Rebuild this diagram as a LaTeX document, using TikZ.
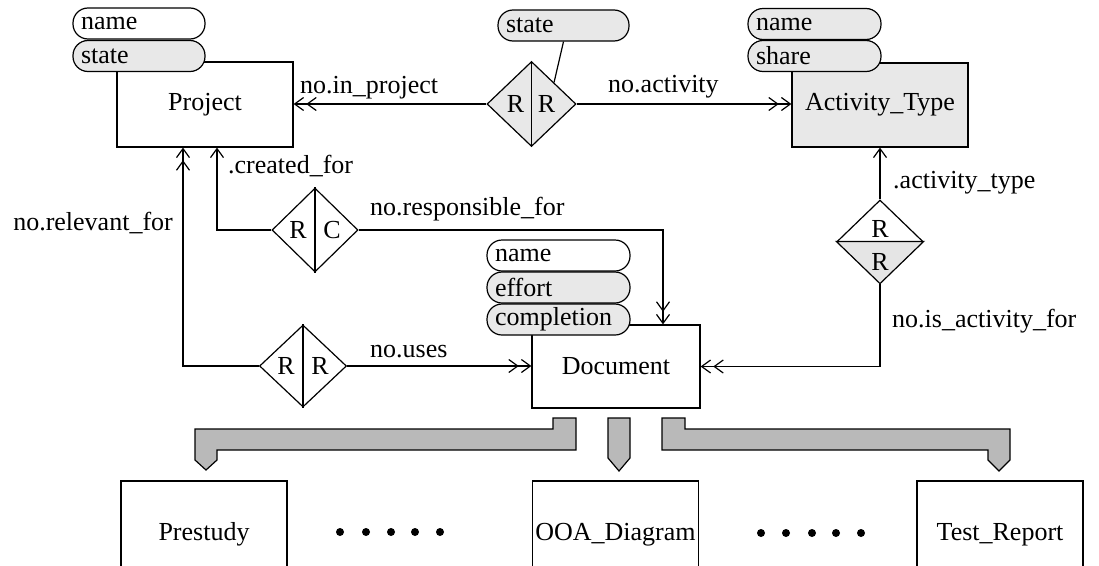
\documentclass[tikz,border=0pt]{standalone}
\usepackage{fontspec}
\setmainfont{Liberation Serif}
\usetikzlibrary{shapes.geometric,arrows.meta}
\tikzset{
  every node/.style={font=\fontsize{26}{31}\selectfont},
  lw/.style={line width=1.2pt},
  ent/.style={draw, lw, rectangle, inner sep=0pt},
  pill/.style={draw, lw, rounded corners=15pt, minimum height=31pt, inner xsep=8pt, inner ysep=0pt, align=left, text width=#1, fill=white},
  shd/.style={fill=gray!18},
  rel/.style={draw, lw, diamond, inner sep=0pt},
  lbl/.style={inner sep=0pt, anchor=base west},
  dbl/.style={lw, -{Straight Barb[length=9pt,width=13pt,sep=2pt]Straight Barb[length=9pt,width=13pt]}},
  sgl/.style={lw, -{Straight Barb[length=9pt,width=13pt]}},
  bus/.style={draw, lw, fill=gray!55},
  sub/.style={ent, minimum width=166pt, minimum height=94pt, text height=24pt, text depth=0pt},
}
\begin{document}
\begin{tikzpicture}[x=1pt,y=-1pt]
\useasboundingbox (0,0) rectangle (1099,565);
\clip (0,0) rectangle (1099,565);

% entities
\node[ent, minimum width=176pt, minimum height=85pt] (project) at (205,104.5) {Project};
\node[ent, shd, minimum width=176pt, minimum height=84pt] (acttype) at (880,105) {Activity\_Type};
\node[ent, minimum width=168pt, minimum height=83pt] (document) at (616,366.5) {Document};

% attribute pills
\node[pill=116pt] (pname) at (139,23.5) {name};
\node[pill=116pt, shd] (pstate) at (139,56) {state};
\node[pill=117pt, shd] (aname) at (814.5,24) {name};
\node[pill=117pt, shd] (ashare) at (814.5,56) {share};
\node[pill=127pt] (dname) at (558.5,255.5) {name};
\node[pill=127pt, shd] (deffort) at (558.5,287.5) {effort};
\node[pill=127pt, shd] (dcompl) at (558.5,319.5) {completion};

% relationships
\node[rel, shd, minimum width=89pt, minimum height=85pt] (d1) at (531.5,104) {};
\draw[lw] (d1.north) -- (d1.south);
\node (d1l) at ([xshift=-16pt]d1.center) {R};
\node (d1r) at ([xshift=15pt]d1.center) {R};
\node[pill=115pt, shd] (tstate) at (563.5,25.5) {state};
\draw[lw] (tstate.south) -- (d1.north east);

\node[rel, minimum width=86pt, minimum height=84pt] (d2) at (315,230) {};
\draw[lw] (d2.north) -- (d2.south);
\node (d2l) at ([xshift=-17pt]d2.center) {R};
\node (d2r) at ([xshift=17pt]d2.center) {C};

\node[rel, minimum width=87pt, minimum height=82pt] (d3) at (303,366) {};
\draw[lw] (d3.north) -- (d3.south);
\node (d3l) at ([xshift=-17pt]d3.center) {R};
\node (d3r) at ([xshift=17pt]d3.center) {R};

\node[rel, minimum width=86pt, minimum height=83pt] (d4) at (880,241.5) {};
\fill[gray!20] (d4.west) -- (d4.east) -- (d4.south) -- cycle;
\draw[lw] (d4.west) -- (d4.south) -- (d4.east) -- cycle;
\node (d4t) at ([yshift=13pt]d4.center) {R};
\node (d4b) at ([yshift=-20pt]d4.center) {R};

% connectors
\draw[dbl] (d1.west) -- (d1.west -| project.east);
\draw[dbl] (d1.east) -- (d1.east -| acttype.west);
\draw[sgl] (d2.west) -| ([xshift=12pt]project.south);
\draw[dbl] (d2.east) -| ([xshift=47pt]document.north);
\draw[dbl] (d3.west) -| ([xshift=-22pt]project.south);
\draw[dbl] (d3.east) -- (d3.east -| document.west);
\draw[sgl] (d4.north) -- (d4.north |- acttype.south);
\draw[dbl] (d4.south) |- (document.east);

% connector labels
\node[lbl] (lip) at (300,93) {no.in\_project};
\node[lbl] (lac) at (608,92) {no.activity};
\node[lbl] (lcf) at (228,173) {.created\_for};
\node[lbl] (lrf) at (370,215) {no.responsible\_for};
\node[lbl, anchor=base east] (lrv) at (173,230) {no.relevant\_for};
\node[lbl] (lus) at (370,357) {no.uses};
\node[lbl] (lat) at (893,188) {.activity\_type};
\node[lbl] (lia) at (892,327) {no.is\_activity\_for};

% specialisation bus
\draw[bus] (195,429) -- (553,429) -- (553,418) -- (576,418) -- (576,450) -- (217,450)
  -- (217,460) -- (206,470) -- (195,460) -- cycle;
\draw[bus] (608,418) -- (630,418) -- (630,458) -- (619,471) -- (608,458) -- cycle;
\draw[bus] (662,418) -- (685,418) -- (685,429) -- (1010,429) -- (1010,460) -- (999,471)
  -- (988,460) -- (988,450) -- (662,450) -- cycle;

% subtypes
\node[sub] (prestudy) at (204,528) {Prestudy};
\node[sub] (ooa) at (615.5,528) {OOA\_Diagram};
\node[sub] (testrep) at (1000,528) {Test\_Report};

% ellipsis dots
\foreach \x in {340,366,391,415,440} \fill (\x,532) circle (4pt);
\foreach \x in {761,786,812,836,861} \fill (\x,533) circle (4pt);
\end{tikzpicture}
\end{document}
